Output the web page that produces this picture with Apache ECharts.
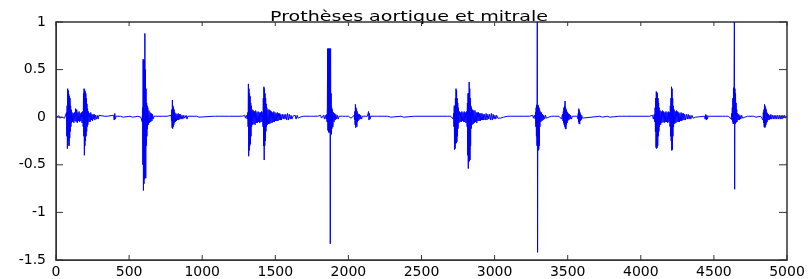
<!DOCTYPE html>
<html>
<head>
    <meta charset="utf-8">
    <title>Prothèses aortique et mitrale</title>
    <style>
        html, body { margin: 0; padding: 0; background: #fff; }
        #main { width: 809px; height: 279px; }
    </style>
</head>
<body>
<div id="main"></div>
<script src="https://cdn.jsdelivr.net/npm/echarts@6/dist/echarts.min.js"></script>
<script>
    // signal: [sample, amplitude], one array per heart cycle
    var cycle1 = [
        [0,0],[8,0.01],[12,-0.01],[20,0.015],[26,-0.01],[34,0.01],[40,0],[52,0.012],[58,-0.01],[66,0],
        [72,0.05],[74,-0.2],[76,0.12],[78,-0.33],[80,0.30],[82,-0.30],[84,0.28],[86,-0.25],[88,0.24],[90,-0.30],
        [92,0.22],[94,-0.22],[96,0.2],[98,-0.15],[100,0.12],[102,-0.1],[104,0.08],[106,-0.06],
        [110,0.05],[114,-0.05],[118,0.04],[122,-0.06],[126,0.05],[130,-0.04],[134,0.09],[138,-0.05],[142,0.08],
        [146,-0.06],[150,0.05],[154,-0.04],[158,0.06],[162,-0.05],[166,0.04],[170,-0.04],[174,0.05],[178,-0.06],[182,0.06],
        [186,-0.1],[188,0.25],[190,-0.2],[192,0.30],[194,-0.40],[196,0.29],[198,-0.3],[200,0.27],[202,-0.25],[204,0.25],
        [206,-0.2],[208,0.2],[210,-0.15],[212,0.14],[214,-0.1],[216,0.09],[218,-0.08],
        [222,0.06],[226,-0.05],[230,0.04],[234,-0.05],[238,0.05],[242,-0.03],[246,0.03],[250,-0.04],[254,0.03],
        [258,-0.02],[262,0.03],[266,-0.03],[270,0.02],[276,-0.02],[282,0.02],[288,-0.02],[294,0.02],[300,0],
        [330,0.01],[336,-0.01],[350,0.01],[356,-0.01],[362,0],[394,0.02],[398,-0.03],[402,0.04],[406,-0.02],[410,0.01],
        [414,0],[440,0.01],[446,-0.01],[460,0],[506,0.01],[512,-0.01],[518,0.01],[524,0],[560,0.01],[566,-0.01],[572,0.01],[580,0],
        [588,0.02],[590,-0.05],[592,0.1],[594,-0.5],[596,0.61],[598,-0.77],[600,0.6],[602,-0.7],[604,0.6],[606,-0.65],
        [608,0.88],[610,-0.64],[612,0.5],[614,-0.64],[616,0.3],[618,-0.3],[620,0.15],[622,-0.2],[624,0.12],[626,-0.12],
        [628,0.1],[632,-0.08],[636,0.07],[640,-0.06],[644,0.05],[648,-0.05],[652,0.04],[656,-0.04],[660,0.03],[664,-0.02],
        [670,0.01],[676,0],[690,0.01],[696,-0.01],[704,0.01],[710,0],[730,0.01],[736,-0.01],[742,0],[760,0.01],[766,-0.01],[772,0],
        [788,0.02],[790,-0.04],[792,0.08],[794,-0.11],[796,0.18],[798,-0.12],[800,0.12],[802,-0.1],[804,0.1],[806,-0.08],
        [808,0.08],[810,-0.06],[812,0.05],[816,-0.05],[820,0.04],[824,-0.04],[828,0.03],[832,-0.03],[836,0.04],[840,-0.03],
        [844,0.03],[848,-0.02],[852,0.03],[856,-0.02],[862,0.02],[868,-0.02],[874,0.02],[880,-0.01],[890,0.02],[896,-0.02],
        [902,0.01],[910,0],[960,0.01],[966,-0.01],[972,0.01],[978,0],[1076,0.01],[1082,-0.01],[1090,0.01],[1100,-0.01],
        [1110,0.01],[1120,0],[1180,0.01],[1186,0],[1260,0.01],[1266,-0.01],[1274,0.01],[1282,-0.01],[1290,0.02],[1296,-0.01]
    ];
    var cycle2 = [
        [1302,0.02],[1308,-0.02],
        [1312,0.05],[1314,-0.1],[1316,0.35],[1318,-0.41],[1320,0.3],[1322,-0.35],[1324,0.25],[1326,-0.30],[1328,0.22],
        [1330,-0.28],[1332,0.15],[1334,-0.2],[1336,0.12],[1338,-0.1],[1342,0.08],[1346,-0.08],[1350,0.07],[1354,-0.07],
        [1358,0.06],[1362,-0.08],[1366,0.07],[1370,-0.06],[1374,0.05],[1378,-0.06],[1382,0.06],[1386,-0.05],[1390,0.05],
        [1394,-0.06],[1398,0.05],[1402,-0.05],[1406,0.06],[1410,-0.05],[1414,0.05],
        [1416,-0.1],[1418,0.2],[1420,-0.3],[1422,0.32],[1424,-0.45],[1426,0.3],[1428,-0.3],[1430,0.25],[1432,-0.25],
        [1434,0.2],[1436,-0.15],[1438,0.14],[1440,-0.1],[1442,0.1],[1446,-0.08],[1450,0.08],[1454,-0.07],[1458,0.08],
        [1462,-0.07],[1466,0.07],[1470,-0.06],[1474,0.06],[1478,-0.06],[1482,0.05],[1486,-0.05],[1490,0.06],[1494,-0.05],
        [1498,0.05],[1502,-0.04],[1506,0.04],[1510,-0.04],[1514,0.05],[1518,-0.04],[1522,0.04],[1526,-0.03],[1530,0.04],
        [1534,-0.03],[1538,0.03],[1542,-0.03],[1548,0.03],[1554,-0.02],[1560,0.03],[1566,-0.02],[1572,0.03],[1578,-0.03],
        [1584,0.04],[1590,-0.03],[1596,0.03],[1602,-0.02],[1608,0.02],[1614,-0.02],[1620,0.01],[1628,0],
        [1636,0.02],[1642,-0.02],[1650,0.02],[1656,-0.01],[1662,0.01],[1670,0],[1690,0.01],[1696,-0.01],[1710,0.01],
        [1716,0],[1740,0.01],[1746,-0.01],[1760,0.01],[1766,0],[1790,0.01],[1796,-0.01],[1810,0.02],[1816,-0.01],
        [1830,0.02],[1836,-0.02],[1842,0.02],[1848,-0.02],
        [1852,0.03],[1854,-0.05],[1856,0.1],[1858,0.72],[1860,-0.14],[1862,0.72],[1864,-0.16],[1866,0.72],[1868,-0.15],
        [1870,0.72],[1872,-0.16],[1874,0.72],[1876,-1.33],[1878,0.72],[1880,-0.16],[1882,0.25],[1884,-0.18],[1886,0.1],
        [1888,-0.12],[1890,0.08],[1894,-0.1],[1898,0.05],[1902,-0.05],[1906,0.04],[1910,-0.03],[1914,0.03],[1918,-0.02],
        [1924,0.02],[1930,-0.02],[1936,0.01],[1944,0],[1960,0.01],[1966,-0.01],[1980,0.01],[1986,0],[2000,0.01],
        [2006,-0.01],[2012,0.01],[2018,-0.01],[2024,0.01],[2030,0],
        [2040,0.02],[2042,-0.03],[2044,0.06],[2046,-0.08],[2048,0.135],[2050,-0.11],[2052,0.1],[2054,-0.08],[2056,0.08],
        [2058,-0.1],[2060,0.06],[2062,-0.05],[2064,0.04],[2066,-0.04],[2068,0.03],[2072,-0.03],[2076,0.03],[2080,-0.02],
        [2084,0.02],[2090,-0.02],[2096,0.01],[2130,0.01],[2134,-0.01],[2138,0.06],[2141,-0.03],[2144,0.04],[2148,-0.02],
        [2152,0.01],[2158,0],[2180,0.01],[2186,-0.01],[2200,0.01],[2206,0],[2230,0.01],[2236,-0.01],[2250,0.01],[2256,0],
        [2270,0.01],[2276,-0.01],[2290,0],[2360,0.01],[2366,-0.01],[2372,0.01],[2378,0],[2450,0.01],[2456,-0.01],[2462,0],
        [2680,0.01],[2686,-0.01],[2700,0.01],[2706,-0.01],[2712,0.02],[2716,-0.02]
    ];
    var cycle3 = [
        [2720,0.04],[2722,-0.1],[2724,0.12],[2726,-0.34],[2728,0.12],[2730,-0.33],[2732,0.2],[2734,-0.28],[2736,0.30],
        [2738,-0.27],[2740,0.28],[2742,-0.26],[2744,0.2],[2746,-0.2],[2748,0.15],[2750,-0.12],[2752,0.1],[2756,-0.06],
        [2760,0.06],[2764,-0.05],[2768,0.05],[2772,-0.05],[2776,0.06],[2780,-0.04],[2784,0.05],[2788,-0.05],[2792,0.06],
        [2796,-0.05],[2800,0.05],[2804,-0.06],[2808,0.06],
        [2812,-0.1],[2814,0.15],[2816,-0.4],[2818,0.25],[2820,-0.54],[2822,0.25],[2824,-0.47],[2826,0.37],[2828,-0.46],
        [2830,0.3],[2832,-0.45],[2834,0.2],[2836,-0.3],[2838,0.12],[2840,-0.12],[2842,0.1],[2846,-0.08],[2850,0.08],
        [2854,-0.07],[2858,0.07],[2862,-0.06],[2866,0.07],[2870,-0.05],[2874,0.05],[2878,-0.06],[2882,0.05],[2886,-0.04],
        [2890,0.05],[2894,-0.04],[2898,0.04],[2902,-0.04],[2906,0.04],[2910,-0.03],[2914,0.04],[2918,-0.03],[2922,0.03],
        [2926,-0.03],[2930,0.03],[2936,-0.03],[2942,0.04],[2948,-0.03],[2954,0.03],[2960,-0.02],[2966,0.03],[2972,-0.03],
        [2978,0.04],[2984,-0.03],[2990,0.03],[2996,-0.02],[3002,0.02],[3008,-0.02],[3014,0.02],[3022,-0.01],[3030,0.01],
        [3040,-0.01],[3050,0.01],[3060,0],[3090,0.01],[3096,-0.01],[3110,0.01],[3116,0],[3140,0.01],[3146,-0.01],
        [3160,0.01],[3166,0],[3200,0.01],[3206,-0.01],[3212,0],[3240,0.01],[3246,-0.01],[3260,0.02],[3266,-0.01],
        [3272,0.02],[3278,-0.02],
        [3280,0.05],[3282,-0.1],[3284,0.1],[3286,-0.2],[3288,0.13],[3290,-0.3],[3292,1.0],[3294,-1.42],[3296,0.13],
        [3298,-0.35],[3300,0.12],[3302,-0.34],[3304,0.1],[3306,-0.3],[3308,0.08],[3310,-0.1],[3312,0.06],[3316,-0.05],
        [3320,0.05],[3324,-0.04],[3328,0.03],[3332,-0.03],[3336,0.02],[3342,-0.02],[3348,0.02],[3354,-0.01],[3362,0.01],
        [3370,0],[3390,0.01],[3396,-0.01],[3410,0.01],[3416,0],[3440,0.01],[3446,-0.01],[3452,0.02],[3458,-0.02],[3464,0.03],
        [3468,-0.04],[3470,0.06],[3472,-0.06],[3474,0.1],[3476,-0.08],[3478,0.12],[3480,-0.1],[3482,0.17],[3484,-0.12],
        [3486,0.1],[3488,-0.125],[3490,0.08],[3492,-0.08],[3494,0.06],[3496,-0.06],[3498,0.05],[3500,-0.04],[3504,0.04],
        [3508,-0.03],[3512,0.03],[3516,-0.02],[3520,0.02],[3526,-0.02],[3532,0.01],[3540,0],
        [3566,0.01],[3570,-0.02],[3572,0.04],[3574,-0.05],[3576,0.09],[3578,-0.07],[3580,0.07],[3582,-0.073],[3584,0.05],
        [3586,-0.04],[3588,0.03],[3592,-0.03],[3596,0.02],[3600,-0.01],[3606,0],
        [3720,0.01],[3726,-0.01],[3732,0.01],[3738,0],[3770,0.01],[3776,-0.01],[3782,0.01],[3788,0],[3850,0.01],
        [3856,-0.01],[3870,0.01],[3876,0],[3900,0.01],[3906,-0.01],[3912,0],[4060,0.01],[4066,-0.01],[4080,0.02],
        [4086,-0.02],[4092,0.03]
    ];
    var cycle4 = [
        [4096,-0.05],[4098,0.1],[4100,-0.15],[4102,0.2],[4104,-0.32],[4106,0.27],[4108,-0.33],[4110,0.26],[4112,-0.32],
        [4114,0.25],[4116,-0.3],[4118,0.2],[4120,-0.2],[4122,0.15],[4124,-0.15],[4126,0.1],[4128,-0.1],[4132,0.07],
        [4136,-0.08],[4140,0.06],[4144,-0.06],[4148,0.07],[4152,-0.05],[4156,0.06],[4160,-0.06],[4164,0.05],[4168,-0.05],
        [4172,0.06],[4176,-0.05],[4180,0.05],[4184,-0.06],[4188,0.06],[4192,-0.05],[4196,0.05],
        [4200,-0.1],[4202,0.12],[4204,-0.2],[4206,0.2],[4208,-0.25],[4210,0.32],[4212,-0.35],[4214,0.3],[4216,-0.34],
        [4218,0.2],[4220,-0.2],[4222,0.12],[4224,-0.1],[4228,0.08],[4232,-0.07],[4236,0.06],[4240,-0.06],[4244,0.07],
        [4248,-0.05],[4252,0.06],[4256,-0.05],[4260,0.05],[4264,-0.05],[4268,0.04],[4272,-0.04],[4276,0.05],[4280,-0.04],
        [4284,0.04],[4288,-0.03],[4292,0.04],[4296,-0.03],[4300,0.03],[4306,-0.03],[4312,0.03],[4318,-0.02],[4324,0.03],
        [4330,-0.02],[4336,0.02],[4342,-0.02],[4350,0.02],[4358,-0.01],[4366,0.01],[4374,0],
        [4436,0.01],[4440,-0.02],[4444,0.03],[4448,-0.03],[4452,0.02],[4456,-0.02],[4460,0.01],[4466,0],[4480,0.01],
        [4486,-0.01],[4492,0],[4560,0.01],[4566,-0.01],[4580,0.01],[4586,0],[4600,0.01],[4606,-0.01],[4612,0.02],
        [4618,-0.02],[4622,0.04],
        [4624,-0.03],[4626,0.1],[4628,-0.05],[4630,0.2],[4632,-0.07],[4634,0.31],[4636,-0.07],[4638,0.31],[4640,1.0],
        [4642,-0.757],[4644,0.3],[4646,-0.07],[4648,0.25],[4650,-0.06],[4652,0.15],[4654,-0.05],[4656,0.08],[4658,-0.05],
        [4662,0.04],[4666,-0.03],[4670,0.03],[4674,-0.03],[4678,0.02],[4684,-0.02],[4690,0.02],[4696,-0.01],[4704,0.01],
        [4712,0],[4730,0.01],[4736,-0.01],[4742,0],[4770,0.01],[4776,-0.01],[4782,0.01],[4788,0],[4820,0.01],[4826,-0.01],
        [4832,0.02],[4836,-0.03],
        [4838,0.05],[4840,-0.06],[4842,0.08],[4844,-0.1],[4846,0.135],[4848,-0.11],[4850,0.12],[4852,-0.1],[4854,0.1],
        [4856,-0.08],[4858,0.08],[4860,-0.06],[4862,0.05],[4864,-0.05],[4866,0.04],[4870,-0.03],[4874,0.03],[4878,-0.03],
        [4882,0.02],[4886,-0.02],[4890,0.03],[4894,-0.02],[4900,0.02],[4906,-0.02],[4912,0.02],[4918,-0.02],[4924,0.02],
        [4930,-0.02],[4936,0.02],[4942,-0.02],[4948,0.02],[4954,-0.02],[4960,0.02],[4966,-0.02],[4972,0.02],[4978,-0.01],
        [4984,0.02],[4990,-0.01],[4996,0.01],[5000,0]
    ];

    var xTicks = [0, 5000, 500];     // min, max, step
    var yTicks = [-1.5, 1, 0.5];
    var titleText = 'Prothèses aortique et mitrale';

    var signal = cycle1.concat(cycle2, cycle3, cycle4);

    var font = 'DejaVu Sans';
    var dark = '#333';

    function plain(v) {
        return String(v);
    }

    var titleEl = {
        id: 'title',
        type: 'text',
        x: 409,
        y: 24,
        scaleX: 1.36,   // the original title is stretched sideways
        style: {
            text: titleText,
            x: 0, y: 0,
            align: 'center',
            verticalAlign: 'bottom',
            fontFamily: font,
            fontSize: 14,
            fill: '#000'
        }
    };

    var chart = echarts.init(document.getElementById('main'));
    var option = {
        animation: false,
        backgroundColor: '#fff',
        graphic: [titleEl],
        grid: {
            left: 56, right: 22, top: 22, bottom: 17,
            show: true, borderColor: dark, borderWidth: 1.5, backgroundColor: 'transparent'
        },
        xAxis: {
            type: 'value', min: xTicks[0], max: xTicks[1], interval: xTicks[2],
            axisLine: { show: true, onZero: false, lineStyle: { color: dark } },
            axisTick: { show: false },
            splitLine: { show: false },
            axisLabel: { fontFamily: font, fontSize: 14, color: '#000', margin: 5,
                showMinLabel: true, showMaxLabel: true, formatter: plain }
        },
        yAxis: {
            type: 'value', min: yTicks[0], max: yTicks[1], interval: yTicks[2],
            axisLine: { show: true, onZero: false, lineStyle: { color: dark } },
            axisTick: { show: false },
            splitLine: { show: false },
            axisLabel: { fontFamily: font, fontSize: 14, color: '#000', margin: 10,
                showMinLabel: true, showMaxLabel: true, formatter: plain }
        },
        series: [
            {
                name: 'signal',
                type: 'line',
                data: signal,
                symbol: 'none',
                sampling: null,
                clip: true,
                lineStyle: { color: '#0000ff', width: 1 }
            }
        ]
    };
    chart.setOption(option);

    // matlab style inner ticks on all four sides, placed through the chart's own scales
    function tickLine(id, x1, y1, x2, y2) {
        return {
            id: id, type: 'line', z: 10, silent: true,
            shape: { x1: x1, y1: y1, x2: x2, y2: y2 },
            style: { stroke: dark, lineWidth: 1 }
        };
    }

    var marks = [titleEl];
    var v, p, q, n = 0;
    for (v = xTicks[0]; v <= xTicks[1]; v += xTicks[2]) {
        p = chart.convertToPixel({ gridIndex: 0 }, [v, yTicks[0]]);
        q = chart.convertToPixel({ gridIndex: 0 }, [v, yTicks[1]]);
        marks.push(tickLine('tx' + n, p[0], p[1], p[0], p[1] - 5));
        marks.push(tickLine('tt' + n, q[0], q[1], q[0], q[1] + 4));
        n++;
    }
    n = 0;
    for (v = yTicks[0]; v <= yTicks[1] + 1e-9; v += yTicks[2]) {
        p = chart.convertToPixel({ gridIndex: 0 }, [xTicks[0], v]);
        q = chart.convertToPixel({ gridIndex: 0 }, [xTicks[1], v]);
        marks.push(tickLine('ty' + n, p[0], p[1], p[0] + 7, p[1]));
        marks.push(tickLine('tr' + n, q[0], q[1], q[0] - 8, q[1]));
        n++;
    }
    chart.setOption({ graphic: marks });
</script>
</body>
</html>
